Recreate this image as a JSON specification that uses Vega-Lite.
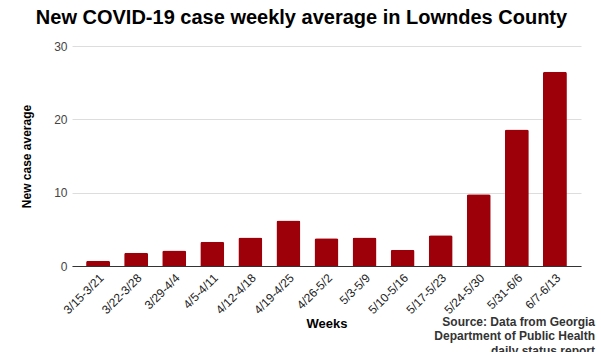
{
  "$schema": "https://vega.github.io/schema/vega-lite/v6.json",
  "autosize": {"type": "pad"},
  "padding": {"left": 20, "top": 8, "right": 5, "bottom": 0},
  "background": "white",
  "title": {
    "text": "New COVID-19 case weekly average in Lowndes County",
    "font": "Liberation Sans",
    "fontSize": 20,
    "fontWeight": "bold",
    "color": "#000000",
    "anchor": "middle",
    "frame": "group",
    "dx": -25,
    "offset": 12
  },
  "config": {"view": {"stroke": null}, "concat": {"spacing": 0}},
  "vconcat": [
    {
      "width": 509,
      "height": 220,
      "title": {
        "text": ["Source: Data from Georgia", "Department of Public Health", "daily status report"],
        "orient": "bottom",
        "anchor": "end",
        "align": "right",
        "font": "Liberation Sans",
        "fontSize": 12,
        "fontWeight": "bold",
        "color": "#333333",
        "lineHeight": 14.5,
        "offset": -14,
        "dx": 14
      },
      "data": {
        "values": [
          {"week": "3/15-3/21", "avg": 0.7},
          {"week": "3/22-3/28", "avg": 1.8},
          {"week": "3/29-4/4", "avg": 2.1},
          {"week": "4/5-4/11", "avg": 3.3},
          {"week": "4/12-4/18", "avg": 3.9},
          {"week": "4/19-4/25", "avg": 6.2},
          {"week": "4/26-5/2", "avg": 3.8},
          {"week": "5/3-5/9", "avg": 3.9},
          {"week": "5/10-5/16", "avg": 2.2},
          {"week": "5/17-5/23", "avg": 4.2},
          {"week": "5/24-5/30", "avg": 9.8},
          {"week": "5/31-6/6", "avg": 18.6},
          {"week": "6/7-6/13", "avg": 26.5}
        ]
      },
      "mark": {"type": "bar", "color": "#9d0008", "cornerRadiusTopLeft": 2, "cornerRadiusTopRight": 2},
      "encoding": {
        "x": {
          "field": "week",
          "type": "nominal",
          "sort": null,
          "scale": {"paddingInner": 0.37, "paddingOuter": 0.37},
          "axis": {
            "title": "Weeks",
            "titleFont": "Liberation Sans",
            "titleFontSize": 13,
            "titleFontWeight": "bold",
            "titleColor": "#000000",
            "titlePadding": 2,
            "labelAngle": -45,
            "labelFont": "Liberation Sans",
            "labelFontSize": 12,
            "labelColor": "#222222",
            "ticks": false,
            "labelPadding": 6,
            "domainColor": "#333333",
            "domainWidth": 1
          }
        },
        "y": {
          "field": "avg",
          "type": "quantitative",
          "scale": {"domain": [0, 30]},
          "axis": {
            "title": "New case average",
            "titleFont": "Liberation Sans",
            "titleFontSize": 12,
            "titleFontWeight": "bold",
            "titleColor": "#000000",
            "titlePadding": 20,
            "values": [0, 10, 20, 30],
            "labelFont": "Liberation Sans",
            "labelFontSize": 12,
            "labelColor": "#444444",
            "labelPadding": 5,
            "ticks": false,
            "domain": false,
            "gridColor": "#dddddd"
          }
        }
      }
    }
  ]
}
